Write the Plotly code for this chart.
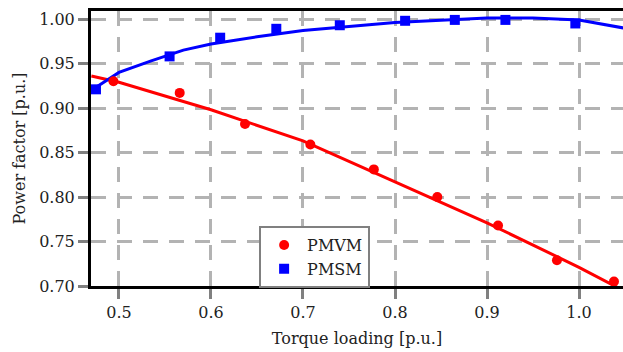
import plotly.graph_objects as go

# PMVM measured points
pmvm_x = [0.494, 0.566, 0.637, 0.708, 0.777, 0.846, 0.912, 0.976, 1.038]
pmvm_y = [0.930, 0.917, 0.882, 0.859, 0.831, 0.800, 0.768, 0.729, 0.705]
# PMVM fitted curve
pmvm_fit_x = [0.47, 0.5, 0.6, 0.7, 0.8, 0.9, 1.0, 1.048]
pmvm_fit_y = [0.936, 0.929, 0.898, 0.863, 0.817, 0.771, 0.721, 0.695]

# PMSM measured points
pmsm_x = [0.475, 0.555, 0.610, 0.671, 0.740, 0.811, 0.865, 0.920, 0.996]
pmsm_y = [0.921, 0.958, 0.979, 0.989, 0.993, 0.998, 0.999, 0.999, 0.995]
# PMSM fitted curve
pmsm_fit_x = [0.47, 0.5, 0.535, 0.57, 0.6, 0.65, 0.7, 0.8, 0.9, 0.95, 1.0, 1.048]
pmsm_fit_y = [0.920, 0.940, 0.953, 0.965, 0.972, 0.980, 0.987, 0.996, 1.001, 1.001, 0.999, 0.990]

x_ticks = [0.5, 0.6, 0.7, 0.8, 0.9, 1.0]
x_tick_labels = ["0.5", "0.6", "0.7", "0.8", "0.9", "1.0"]
y_ticks = [0.70, 0.75, 0.80, 0.85, 0.90, 0.95, 1.00]
y_tick_labels = ["0.70", "0.75", "0.80", "0.85", "0.90", "0.95", "1.00"]

RED = "#ff0000"
BLUE = "#0000ff"
FONT = "DejaVu Serif"

fig = go.Figure()
fig.add_trace(go.Scatter(x=pmvm_fit_x, y=pmvm_fit_y, mode="lines",
                         line=dict(color=RED, width=3), showlegend=False))
fig.add_trace(go.Scatter(x=pmsm_fit_x, y=pmsm_fit_y, mode="lines",
                         line=dict(color=BLUE, width=3), showlegend=False))
fig.add_trace(go.Scatter(x=pmvm_x, y=pmvm_y, mode="markers", name="PMVM",
                         marker=dict(color=RED, size=10, symbol="circle")))
fig.add_trace(go.Scatter(x=pmsm_x, y=pmsm_y, mode="markers", name="PMSM",
                         marker=dict(color=BLUE, size=10, symbol="square")))

axis_common = dict(
    showgrid=True, gridcolor="#b3b3b3", gridwidth=3, griddash="15px,11px",
    ticks="outside", ticklen=10, tickwidth=3, tickcolor="#808080",
    showline=True, linecolor="black", linewidth=3, zeroline=False,
    tickfont=dict(family=FONT, size=16, color="#222"),
    automargin=False,
)

fig.update_layout(
    width=623, height=352,
    margin=dict(l=91, r=0, t=11, b=66),
    paper_bgcolor="white", plot_bgcolor="white",
    font=dict(family=FONT, size=16, color="#222"),
    xaxis=dict(range=[0.4696, 1.0478], tickvals=x_ticks, ticktext=x_tick_labels,
               mirror=True,
               title=dict(text="Torque loading [p.u.]", font=dict(family=FONT, size=16), standoff=12),
               **axis_common),
    yaxis=dict(range=[0.70, 1.009], tickvals=y_ticks, ticktext=y_tick_labels,
               mirror=False,
               title=dict(text="Power factor [p.u.]", font=dict(family=FONT, size=16), standoff=10),
               **axis_common),
    legend=dict(x=0.316, y=0.218, xanchor="left", yanchor="top",
                bgcolor="white", bordercolor="#808080", borderwidth=2,
                font=dict(family=FONT, size=16, color="#222"),
                itemwidth=36),
)

fig.write_html("out.html", config={"displayModeBar": False},
               post_script="document.body.style.margin='0px';")
